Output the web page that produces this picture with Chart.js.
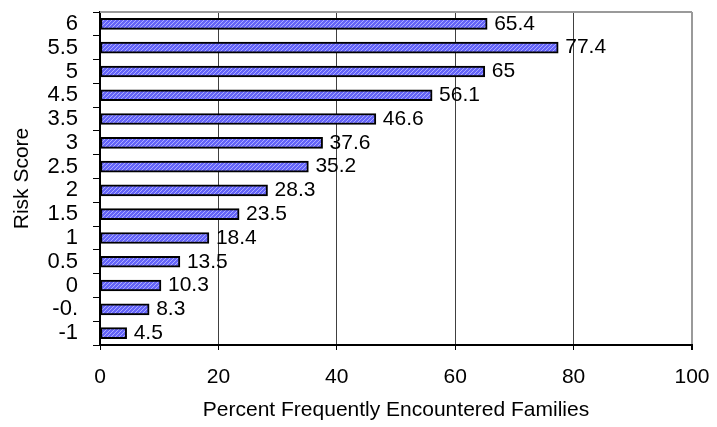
<!DOCTYPE html>
<html>
<head>
<meta charset="utf-8">
<script src="https://cdn.jsdelivr.net/npm/chart.js@4/dist/chart.umd.min.js"></script>
<style>
  html, body { margin: 0; padding: 0; background: #fff; }
  #wrap { width: 717px; height: 427px; position: relative; }
</style>
</head>
<body>
<div id="wrap"><canvas id="chart"></canvas></div>
<script>
// Risk score categories, listed top to bottom
const riskScores = ['6', '5.5', '5', '4.5', '3.5', '3', '2.5', '2', '1.5', '1', '0.5', '0', '-0.', '-1'];
// Percent of frequently encountered families for each score
const percentFamilies = [65.4, 77.4, 65, 56.1, 46.6, 37.6, 35.2, 28.3, 23.5, 18.4, 13.5, 10.3, 8.3, 4.5];
// Value axis tick labels
const percentTicks = [0, 20, 40, 60, 80, 100];

const FAMILY = '"Liberation Sans", Arial, sans-serif';
const FONT = { family: FAMILY, size: 21 };
const CAT_FONT = { family: FAMILY, size: 22 };

const canvas = document.getElementById('chart');
const ctx = canvas.getContext('2d');

// Fine diagonal hatch fill for the bars
function hatchPattern() {
  const tile = document.createElement('canvas');
  tile.width = 4; tile.height = 4;
  const t = tile.getContext('2d');
  t.fillStyle = '#6464f8';
  t.fillRect(0, 0, 4, 4);
  t.fillStyle = '#acacff';
  for (let i = 0; i < 4; i++) t.fillRect(i, 3 - i, 1, 1);
  return ctx.createPattern(tile, 'repeat');
}

// Keep the plot area fixed by dropping the automatic label overhang padding
function noOverhang(s) {
  s.paddingTop = 0; s.paddingBottom = 0;
  s.paddingLeft = 0; s.paddingRight = 0;
}

// Gray frame line along the top of the plot area
const frameTop = {
  id: 'frameTop',
  beforeDatasetsDraw(chart) {
    const { ctx, chartArea } = chart;
    ctx.save();
    ctx.strokeStyle = '#9a9a9a';
    ctx.lineWidth = 2;
    ctx.beginPath();
    ctx.moveTo(chartArea.left, chartArea.top);
    ctx.lineTo(chartArea.right, chartArea.top);
    ctx.stroke();
    ctx.restore();
  }
};

// Value labels just past the end of each bar
const barValues = {
  id: 'barValues',
  afterDatasetsDraw(chart) {
    const { ctx } = chart;
    const meta = chart.getDatasetMeta(0);
    const data = chart.data.datasets[0].data;
    ctx.save();
    ctx.font = `${FONT.size}px ${FONT.family}`;
    ctx.fillStyle = '#000';
    ctx.textAlign = 'left';
    ctx.textBaseline = 'middle';
    meta.data.forEach((bar, i) => {
      ctx.fillText(String(data[i]), bar.x + 7, bar.y);
    });
    ctx.restore();
  }
};

new Chart(ctx, {
  type: 'bar',
  data: {
    labels: riskScores,
    datasets: [{
      data: percentFamilies,
      backgroundColor: hatchPattern(),
      borderColor: '#000',
      borderWidth: 2,
      borderSkipped: false,
      barThickness: 11
    }]
  },
  options: {
    indexAxis: 'y',
    responsive: true,
    maintainAspectRatio: false,
    animation: false,
    events: [],
    layout: { padding: { left: 0, top: 12, right: 25, bottom: 0 } },
    plugins: {
      legend: { display: false },
      tooltip: { enabled: false }
    },
    scales: {
      x: {
        type: 'linear',
        min: 0,
        max: 100,
        afterBuildTicks: s => { s.ticks = percentTicks.map(v => ({ value: v })); },
        afterFit: s => { s.height = 82; noOverhang(s); },
        ticks: {
          color: '#000',
          font: FONT,
          padding: 15,
          maxRotation: 0,
          autoSkip: false
        },
        grid: {
          color: c => (c.tick && c.tick.value === 100) ? '#9a9a9a' : '#404040',
          lineWidth: c => (c.tick && c.tick.value === 100) ? 2 : 1,
          tickColor: '#000',
          tickLength: 5,
          drawTicks: true
        },
        border: { color: '#000', width: 2 },
        title: {
          display: true,
          text: 'Percent Frequently Encountered Families',
          color: '#000',
          font: FONT,
          padding: { top: 0, bottom: 4 }
        }
      },
      y: {
        type: 'category',
        afterFit: s => { s.width = 100; noOverhang(s); },
        ticks: {
          color: '#000',
          font: CAT_FONT,
          padding: 15,
          autoSkip: false
        },
        grid: {
          offset: true,
          drawOnChartArea: false,
          drawTicks: true,
          tickLength: 7,
          tickColor: '#000'
        },
        border: { color: '#000', width: 2 },
        title: {
          display: true,
          text: 'Risk Score',
          color: '#000',
          font: FONT,
          padding: { top: 10, bottom: 0 }
        }
      }
    }
  },
  plugins: [frameTop, barValues]
});
</script>
</body>
</html>
